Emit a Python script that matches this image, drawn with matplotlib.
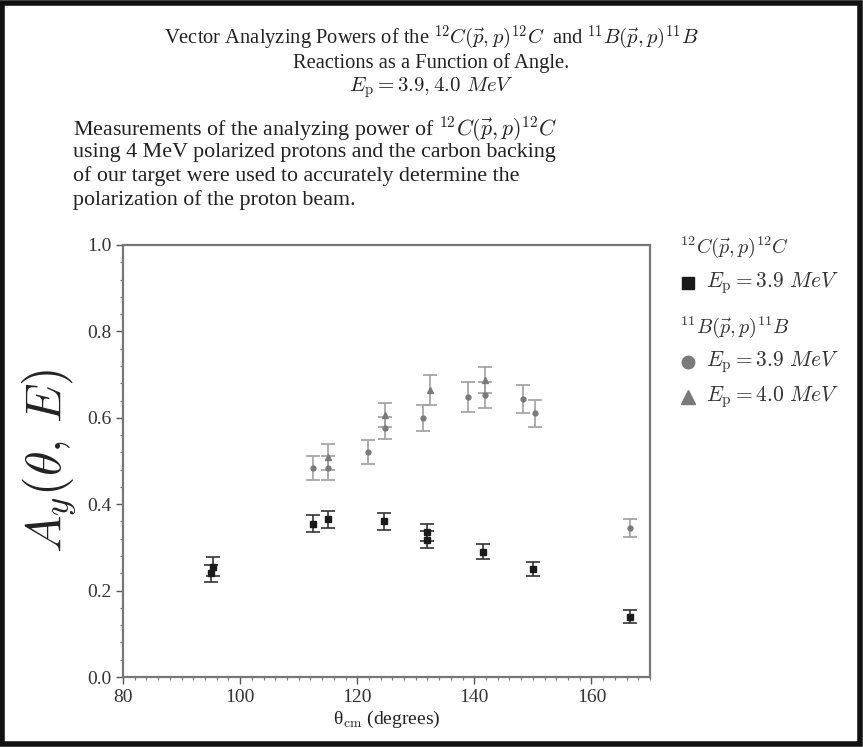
import matplotlib
matplotlib.use("Agg")
import matplotlib.pyplot as plt
from matplotlib.lines import Line2D
from matplotlib.patches import Rectangle
from matplotlib.ticker import MultipleLocator

plt.rcParams['font.family'] = ['Liberation Serif', 'DejaVu Serif']
plt.rcParams['mathtext.fontset'] = 'cm'

# 12C(p,p)12C, Ep = 3.9 MeV
c_theta = [95.0, 95.3, 112.5, 115.0, 124.5, 132.0, 132.0, 141.5, 150.0, 166.5]
c_ay = [0.240, 0.255, 0.355, 0.365, 0.360, 0.335, 0.318, 0.290, 0.250, 0.140]
c_err = [0.020, 0.022, 0.020, 0.020, 0.020, 0.020, 0.020, 0.018, 0.016, 0.015]

# 11B(p,p)11B, Ep = 3.9 MeV
b39_theta = [112.5, 115.0, 121.8, 124.7, 131.2, 138.9, 141.8, 148.3, 150.3, 166.5]
b39_ay = [0.484, 0.484, 0.520, 0.576, 0.600, 0.648, 0.653, 0.643, 0.610, 0.345]
b39_err = [0.027, 0.028, 0.028, 0.025, 0.030, 0.035, 0.030, 0.033, 0.032, 0.020]

# 11B(p,p)11B, Ep = 4.0 MeV
b40_theta = [115.0, 124.7, 132.4, 141.8]
b40_ay = [0.509, 0.606, 0.665, 0.687]
b40_err = [0.030, 0.028, 0.035, 0.030]

xlim = (80, 170)
ylim = (0.0, 1.0)

fig = plt.figure(figsize=(8.63, 7.47), dpi=100)
ax = fig.add_axes([123/863, 1-677/747, (650-123)/863, (677-245)/747])

black = '#1a1a1a'
grey = '#7a7a7a'
ax.errorbar(b39_theta, b39_ay, yerr=b39_err, fmt='o', ms=3.5, color=grey,
            ecolor='#a0a0a0', elinewidth=1.2, capsize=5, capthick=1.2)
ax.errorbar(b40_theta, b40_ay, yerr=b40_err, fmt='^', ms=4, color=grey,
            ecolor='#a0a0a0', elinewidth=1.2, capsize=5, capthick=1.2)
ax.errorbar(c_theta, c_ay, yerr=c_err, fmt='s', ms=4, color=black,
            ecolor='#333333', elinewidth=1.2, capsize=5, capthick=1.2)

ax.set_xlim(*xlim)
ax.set_ylim(*ylim)
ax.xaxis.set_major_locator(MultipleLocator(20))
ax.xaxis.set_minor_locator(MultipleLocator(2))
ax.yaxis.set_major_locator(MultipleLocator(0.2))
ax.yaxis.set_minor_locator(MultipleLocator(0.04))
ax.yaxis.set_major_formatter(matplotlib.ticker.FormatStrFormatter('%.1f'))
ax.tick_params(which='major', length=5, width=1, color='#555555', labelsize=14,
               labelcolor='#333333')
ax.tick_params(which='minor', length=2.5, width=0.8, color='#777777')
for s in ax.spines.values():
    s.set_color('#777777')
    s.set_linewidth(1.6)

ax.set_xlabel('θ$_{\\rm cm}$ (degrees)', fontsize=14, color='#222222', labelpad=2)
ax.set_ylabel('$A_y(\\theta,\\, E)$', fontsize=36, color='#222222', labelpad=6)

# Title
fig.text(0.5, 1-38/747, 'Vector Analyzing Powers of the $^{12}C(\\vec{p},p)^{12}C$  and $^{11}B(\\vec{p},p)^{11}B$',
         ha='center', va='center', fontsize=14.8, color='#222222')
fig.text(0.5, 1-63/747, 'Reactions as a Function of Angle.', ha='center', va='center',
         fontsize=14.8, color='#222222')
fig.text(0.5, 1-88/747, '$E_{\\rm p} = 3.9, 4.0\\ MeV$', ha='center', va='center',
         fontsize=15, color='#222222')

para = ['Measurements of the analyzing power of $^{12}C(\\vec{p},p)^{12}C$',
        'using 4 MeV polarized protons and the carbon backing',
        'of our target were used to accurately determine the',
        'polarization of the proton beam.']
for i, line in enumerate(para):
    fig.text(73/863, 1-(129+23.7*i)/747, line, ha='left', va='center',
             fontsize=15.8, color='#222222')

# Legend (drawn manually)
lx = 680/863
fig.text(lx, 1-247/747, '$^{12}C(\\vec{p},p)^{12}C$', ha='left', va='center', fontsize=14.5, color='#333333')
entries = [(283, 's', black, '$E_{\\rm p} = 3.9\\ MeV$'),
           (362, 'o', grey, '$E_{\\rm p} = 3.9\\ MeV$'),
           (397, '^', grey, '$E_{\\rm p} = 4.0\\ MeV$')]
fig.text(lx, 1-327/747, '$^{11}B(\\vec{p},p)^{11}B$', ha='left', va='center', fontsize=14.5, color='#333333')
for y, m, col, lab in entries:
    fig.add_artist(Line2D([688/863], [1-y/747], marker=m, color=col, ms=9 if m != '^' else 10,
                          linestyle='none', transform=fig.transFigure))
    fig.text(706/863, 1-y/747, lab, ha='left', va='center', fontsize=15.5, color='#333333')

# Outer frame
fig.add_artist(Rectangle((0.002, 0.004), 0.994, 0.992, transform=fig.transFigure,
                         fill=False, edgecolor='#111111', linewidth=4))

fig.savefig('out.png', dpi=100, facecolor='white')
